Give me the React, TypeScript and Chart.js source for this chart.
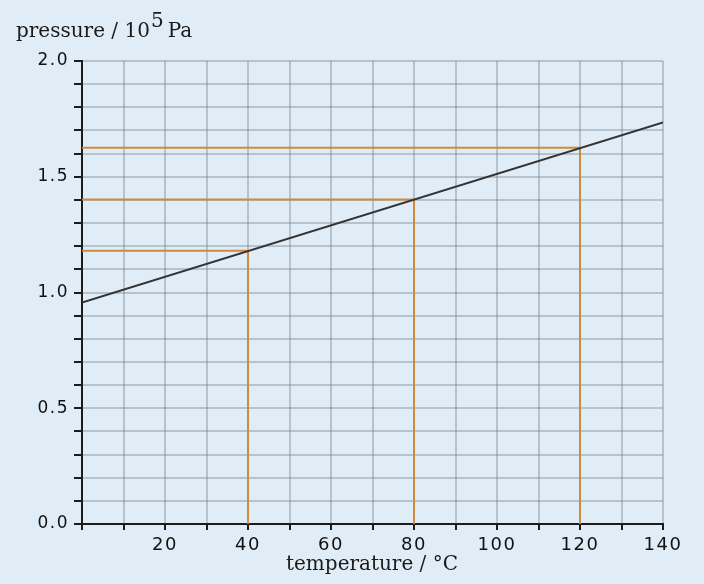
import React, { useEffect, useRef } from "react";
import { Chart, registerables } from "chart.js";

Chart.register(...registerables);

// Data
const lineTemps = [0, 140];
const linePressures = [0.957, 1.735];
const readTemps = [40, 80, 120];
const readPressures = [1.18, 1.402, 1.625];
const xTickLabels = [20, 40, 60, 80, 100, 120, 140];
const yTickLabels = [0.0, 0.5, 1.0, 1.5, 2.0];

const BG = "#e0edf6";
const GRID = "rgba(95,105,115,0.32)";
const AXIS = "#1c1c1c";
const ORANGE = "#cf8a3d";

const spacingPlugin = {
  id: "labelSpacing",
  beforeDraw(chart: any) {
    chart.ctx.letterSpacing = "1.5px";
  },
  afterDraw(chart: any) {
    chart.ctx.letterSpacing = "0px";
  },
};

export default function App() {
  const ref = useRef<HTMLCanvasElement | null>(null);

  useEffect(() => {
    if (!ref.current) return;
    const datasets: any[] = [
      {
        data: lineTemps.map((t, i) => ({ x: t, y: linePressures[i] })),
        borderColor: "#333333",
        borderWidth: 2,
        pointRadius: 0,
        fill: false,
      },
    ];
    readTemps.forEach((t, i) => {
      datasets.push({
        data: [
          { x: 0, y: readPressures[i] },
          { x: t, y: readPressures[i] },
          { x: t, y: 0 },
        ],
        borderColor: ORANGE,
        borderWidth: 2,
        pointRadius: 0,
        fill: false,
      });
    });

    const chart = new Chart(ref.current, {
      type: "line",
      data: { datasets },
      plugins: [spacingPlugin],
      options: {
        responsive: false,
        animation: false,
        devicePixelRatio: 1,
        layout: { padding: { top: 61, right: 41, bottom: 0, left: 0 } },
        plugins: {
          legend: { display: false },
          tooltip: { enabled: false },
        },
        scales: {
          x: {
            type: "linear",
            min: 0,
            max: 140,
            afterFit: (s: any) => {
              s.height = 60;
            },
            ticks: {
              stepSize: 10,
              color: "#111",
              padding: 5,
              maxRotation: 0,
              autoSkip: false,
              font: { family: "DejaVu Sans", size: 18 },
              callback: (v: any) =>
                xTickLabels.includes(Math.round(Number(v))) ? String(Math.round(Number(v))) : "",
            },
            grid: {
              color: GRID,
              lineWidth: 2,
              tickLength: 6,
              tickColor: AXIS,
              tickWidth: 2,
            },
            border: { color: AXIS, width: 2 },
          },
          y: {
            type: "linear",
            min: 0,
            max: 2,
            afterFit: (s: any) => {
              s.width = 82;
            },
            ticks: {
              stepSize: 0.1,
              color: "#111",
              padding: 5,
              autoSkip: false,
              font: { family: "DejaVu Sans", size: 17 },
              callback: (v: any) => {
                const n = Math.round(Number(v) * 10) / 10;
                return yTickLabels.some((l) => Math.abs(l - n) < 1e-6) ? n.toFixed(1) : "";
              },
            },
            grid: {
              color: GRID,
              lineWidth: 2,
              tickLength: 8,
              tickColor: AXIS,
              tickWidth: 2,
            },
            border: { color: AXIS, width: 2 },
          },
        },
      },
    } as any);
    return () => chart.destroy();
  }, []);

  return (
    <div
      style={{
        position: "fixed",
        left: 0,
        top: 0,
        width: 704,
        height: 584,
        background: BG,
        overflow: "hidden",
      }}
    >
      <canvas ref={ref} width={704} height={584} style={{ position: "absolute", left: 0, top: 0 }} />
      <div
        style={{
          position: "absolute",
          left: 16,
          top: 18,
          fontFamily: "'DejaVu Serif', serif",
          fontSize: 20,
          color: "#1a1a1a",
          whiteSpace: "nowrap",
        }}
      >
        pressure / 10<span style={{ position: "relative", top: -10, marginLeft: 1 }}>5</span>
        <span style={{ marginLeft: 4 }}>Pa</span>
      </div>
      <div
        style={{
          position: "absolute",
          left: 372,
          top: 551,
          transform: "translateX(-50%)",
          fontFamily: "'DejaVu Serif', serif",
          fontSize: 20,
          color: "#1a1a1a",
          whiteSpace: "nowrap",
        }}
      >
        temperature / °C
      </div>
    </div>
  );
}
